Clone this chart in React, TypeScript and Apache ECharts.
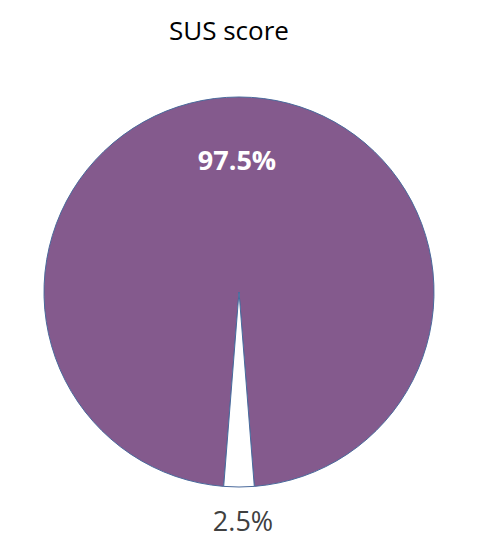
import React, { useEffect, useRef } from "react";
import * as echarts from "echarts";

const title = "SUS score";
const categories = ["Score", "Remainder"];
const values = [97.5, 2.5];
const colors = ["#845a8d", "#ffffff"];

export default function App() {
  const ref = useRef<HTMLDivElement>(null);
  useEffect(() => {
    if (!ref.current) return;
    const chart = echarts.init(ref.current, undefined, { renderer: "svg" });
    const font = "'Open Sans', 'Noto Sans', sans-serif";
    chart.setOption({
      animation: false,
      backgroundColor: "#ffffff",
      title: {
        text: title,
        left: 164,
        top: 12,
        textStyle: { fontFamily: font, fontSize: 26, fontWeight: "normal", color: "#000000" },
      },
      series: [
        {
          type: "pie",
          center: [239, 292],
          radius: [0, 195],
          startAngle: 265.5,
          clockwise: true,
          avoidLabelOverlap: false,
          itemStyle: { borderColor: "#4a6a9c", borderWidth: 1 },
          data: categories.map((c, i) => ({
            name: c,
            value: values[i],
            itemStyle: { color: colors[i] },
            label:
              i === 0
                ? {
                    show: true,
                    position: "inside",
                    offset: [-2, -32],
                    formatter: (p: any) => p.value.toFixed(1) + "%",
                    color: "#ffffff",
                    fontWeight: "bold",
                    fontSize: 27,
                    fontFamily: font,
                  }
                : {
                    show: true,
                    position: "inside",
                    offset: [4, 128],
                    formatter: (p: any) => p.value.toFixed(1) + "%",
                    color: "#404040",
                    fontSize: 27,
                    fontFamily: font,
                  },
            labelLine: { show: false },
          })),
        },
      ],
    });
    return () => chart.dispose();
  }, []);
  return (
    <div
      ref={ref}
      style={{ position: "fixed", left: 0, top: 0, width: 477, height: 547 }}
    />
  );
}
